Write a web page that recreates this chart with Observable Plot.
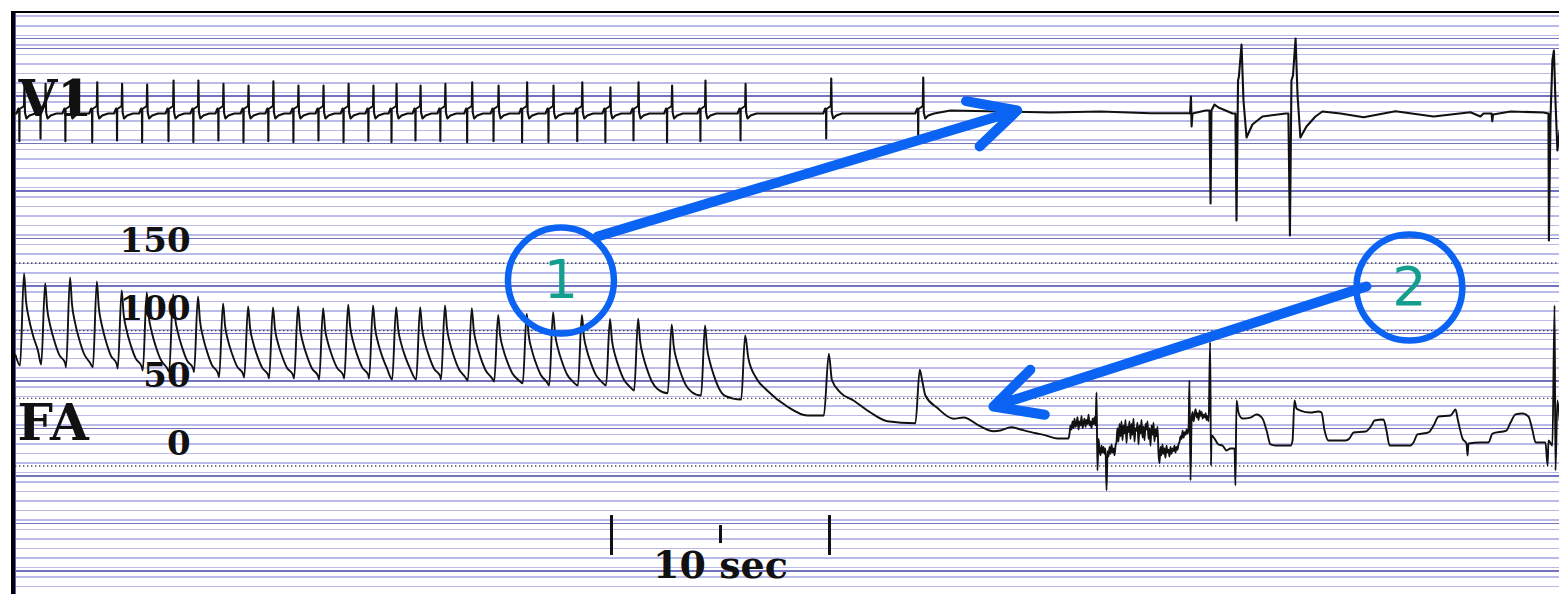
<!DOCTYPE html>
<html><head><meta charset="utf-8">
<script src="https://cdn.jsdelivr.net/npm/d3@7"></script>
<script src="https://cdn.jsdelivr.net/npm/@observablehq/plot@0.6"></script>
<style>
html,body{margin:0;padding:0;background:#fff;}
#wrap{position:relative;width:1559px;height:594px;overflow:hidden;background:#fff;}
#paper{position:absolute;left:15px;top:14px;right:0;bottom:0;
 background-image:
  repeating-linear-gradient(to bottom, rgba(90,90,180,0.85) 0px, rgba(90,90,180,0.85) 1.3px, transparent 1.3px, transparent 47.5px),
  repeating-linear-gradient(to bottom, rgba(150,150,222,0.65) 0px, rgba(150,150,222,0.65) 1.3px, transparent 1.3px, transparent 9.5px);
 background-position: 0 34px, 0 2px;}
#frameL{position:absolute;left:11px;top:11px;width:3.5px;bottom:0;background:#000;}
#frameLb{position:absolute;left:15px;top:13px;width:1px;bottom:0;background:#5a5ab8;}
#frameT{position:absolute;left:11px;top:11px;right:0;height:2px;background:#000;}
.layer{position:absolute;left:0;top:0;}
</style></head>
<body>
<div id="wrap"><div id="paper"></div><div id="frameL"></div><div id="frameLb"></div><div id="frameT"></div></div>
<script>
// ---------------- DATA ----------------
// beat times (s) of the V1 spike complexes
const beatTimes = [0.41, 1.38, 2.52, 3.75, 4.89, 6.04, 7.25, 8.39, 9.54, 10.69, 11.83, 12.98, 14.13, 15.28, 16.42,
  17.48, 18.58, 19.72, 20.95, 22.16, 23.47, 24.68, 26.00, 27.29, 28.58, 30.12, 31.65, 33.49, 37.42, 41.64];
// V1 spike amplitudes (mV)
const v1Up = [1.08, 1.15, 1.2, 1.21, 1.15, 1.12, 1.28, 1.28, 1.15, 1.08, 1.25, 1.08, 1.08, 1.15, 1.08, 1.15,
  1.08, 1.15, 1.21, 1.08, 1.21, 1.08, 1.21, 1.01, 1.21, 1.08, 1.28, 1.15, 1.36, 1.40];
const v1Down = [-1.15, -1.05, -1.15, -1.19, -1.12, -1.19, -1.15, -1.19, -1.12, -1.19, -1.15, -1.19, -1.12, -1.19,
  -1.15, -1.19, -1.12, -1.15, -1.19, -1.15, -1.19, -1.19, -1.15, -1.19, -1.12, -1.19, -1.15, -1.12, -1.04, -0.92];
// V1 complex shape: time offsets (s) and values (mV); "D"/"U" = spike
const v1ShapeDt = [-0.367, -0.275, -0.24, -0.232, -0.222, -0.05, -0.02, 0, 0.025, 0.09, 0.23, 0.5];
const v1ShapeMv = [-0.04, 0.16, 0.08, "D", 0.14, 0.24, 0.28, "U", 0.0, -0.24, -0.12, -0.04];
// V1 after the pauses [t (s), mV]
const v1Tail = [[42.89, 0.08], [45.18, 0.04], [47.48, 0], [49.77, 0.04], [52.07, -0.03], [53.81, -0.03], [53.88, -0.04],
  [53.92, 0.64], [53.95, -0.56], [53.99, -0.04], [54.59, 0.08], [54.77, 0.08], [54.82, -3.64], [54.86, 0.08], [55.00, 0.32],
  [55.18, 0.2], [55.51, 0.08], [55.83, -0.04], [55.96, -0.04], [56.01, -4.32], [56.08, 1.28], [56.12, 1.44], [56.24, 2.72],
  [56.33, 0.48], [56.47, -1.0], [56.74, -0.48], [57.20, -0.16], [58.26, -0.04], [58.39, -0.04], [58.46, -4.92], [58.53, 1.28],
  [58.60, 1.48], [58.72, 2.96], [58.81, 0.68], [58.94, -1.0], [59.22, -0.56], [59.63, -0.16], [59.95, 0.04], [60.78, -0.04],
  [61.84, -0.19], [63.30, 0.05], [65.05, -0.16], [66.74, 0.01], [67.20, -0.16], [67.34, -0.04], [67.71, -0.04], [67.74, -0.35],
  [67.78, -0.08], [68.58, 0.04], [70.09, 0], [70.32, -0.04], [70.34, -5.12], [70.41, -0.32], [70.50, 2.08], [70.57, 2.48],
  [70.64, 0.48], [70.73, -1.52], [70.83, -0.72]];

// FA (arterial pressure, mmHg)
const faStart = [0, 82];
const faPeak = [142.2, 135.1, 139.3, 136.3, 129.7, 128.2, 126.7, 125.3, 120.1, 117.9, 117.1, 117.9, 116.6, 119.1,
  118.6, 117.3, 117.3, 118.6, 116.6, 111.7, 112.5, 113.6, 111.7, 108.6, 108.8, 104.6, 103.8, 96.4];
const faTrough = [74.3, 75.0, 73.0, 73.0, 72.0, 70.6, 69.8, 69.3, 65.6, 65.4, 64.7, 64.7, 63.9, 64.7, 64.7, 63.9,
  63.9, 63.9, 63.2, 62.4, 61.2, 59.5, 59.5, 59.5, 55.8, 53.8, 52.1, 49.1];
const faUpOffset = -0.2, faPeakOffset = -0.02;
const faDecayDt = [0.092, 0.229, 0.413, 0.642, 0.917];
const faDecayFrac = [0.3, 0.5, 0.68, 0.85, 0.95];
const faTail = [[33.62, 79.4], [33.99, 64.7], [34.48, 55.8], [35.40, 44.0], [36.32, 37.3], [37.08, 37.3],
  [37.31, 82.9], [37.45, 63.5], [37.84, 54.3], [38.44, 48.4], [39.22, 39.5], [39.99, 33.1], [41.28, 31.6],
  [41.48, 71.1], [41.59, 63.2], [41.74, 52.1], [42.28, 43.0], [43.03, 34.9], [43.49, 35.8], [44.27, 29.2], [44.86, 25.7],
  [45.18, 26.2], [45.67, 28.7], [46.10, 27.0], [46.82, 24.2], [47.29, 22.5], [47.80, 20.3], [48.30, 20.3]];
// noisy stretches, sampled every faSampleStep seconds
const faSampleStep = 0.0459;
const faNoiseStarts = [48.35, 49.68, 50.55, 52.43, 53.40, 53.95];
const faNoiseA = [24, 30, 27, 33, 28, 35, 29, 31, 36, 27, 33, 30, 37, 28, 32, 35, 29, 34, 31, 38, 30, 33, 28, 35, 31, 36, 30];
const faNoiseB = [20, 12, 8, 15, 10, 14, 9, 13, -18, 11, 7, 14, 9, 16, 10, 13, 8, 15, 18];
const faNoiseC = [28, 18, 31, 22, 33, 19, 30, 24, 34, 17, 29, 25, 33, 20, 31, 23, 35, 18, 28, 26, 32, 16, 30, 24, 34,
  21, 29, 19, 31, 27, 33, 20, 28, 15, 30, 23, 32, 18, 27, 22, 29];
const faNoiseD = [10, 2, 14, 8, 16, 9, 13, 6, 15, 10, 12, 7, 14, 9, 13, 11, 15, 10, 14, 12, 16];
const faNoiseE = [18, 22, 20, 26, 21, 25, 23, 27, 24, 28];
const faNoiseF = [35, 40, 33, 38, 42, 36, 39, 34, 41, 37, 40, 35, 38, 36, 39, 34, 37, 33];
const faSpikes = [[49.59, 54.3], [49.63, -3.3], [53.85, 63.2], [53.90, -10.7], [54.80, 91.5], [54.84, 0.4]];
const faEnd = [[54.86, 22.5], [55.00, 20.3], [55.18, 15.9], [55.37, 15.1], [55.55, 11.5], [55.73, 12.9], [55.92, 12.9],
  [55.96, -14.4], [56.01, 48.4], [56.10, 39.5], [56.28, 35.1], [56.65, 35.8], [56.93, 38.1], [57.20, 35.1], [57.39, 26.2],
  [57.57, 15.9], [57.80, 15.1], [58.49, 15.1], [58.58, 18.8], [58.67, 48.4], [58.76, 42.5], [58.94, 41.0], [59.40, 39.5],
  [59.77, 40.3], [59.91, 39.5], [60.05, 26.2], [60.23, 18.8], [61.01, 18.8], [61.19, 20.3], [61.38, 24.8], [61.93, 25.5],
  [62.20, 29.9], [62.34, 33.6], [62.75, 34.4], [62.89, 26.2], [63.03, 15.1], [63.99, 15.1], [64.13, 17.4], [64.31, 23.3],
  [64.82, 24.8], [65.05, 29.9], [65.28, 36.6], [65.83, 37.3], [66.06, 41.7], [66.15, 35.1], [66.38, 20.3], [66.56, 16.6],
  [66.61, 7.8], [66.65, 16.6], [67.20, 17.4], [67.57, 17.4], [67.75, 24.0], [68.39, 26.2], [68.58, 32.1], [68.81, 38.1],
  [69.13, 38.8], [69.40, 36.6], [69.59, 26.2], [69.73, 17.4], [70.18, 17.4], [70.28, 0.4], [70.32, 18.8], [70.50, 15.1],
  [70.60, 118.6], [70.64, -3.3], [70.73, 48.4], [70.83, 33.6]];

const pressureTicks = [0, 50, 100, 150];
const scaleBarStart = 27.34;     // s
const scaleBarTicks = [0, 5, 10]; // s from start
const scaleBarLabel = "10 sec";

const callouts = [{t: 25.02, p: 137.1, label: "1"}, {t: 63.94, p: 131.9, label: "2"}];
const arrows = [{t1: 26.70, p1: 169.6, t2: 45.95, p2: 262.7}, {t1: 61.97, p1: 132.6, t2: 44.86, p2: 44.0}];

// ---------------- BUILD ----------------
const v1 = [{t: 0, v: -0.04}];
beatTimes.forEach((u, i) => {
  v1ShapeDt.forEach((dt, k) => {
    const m = v1ShapeMv[k];
    v1.push({t: u + dt, v: m === "U" ? v1Up[i] : m === "D" ? v1Down[i] : m});
  });
});
v1Tail.forEach(([t, v]) => v1.push({t, v}));
v1.sort((a, b) => a.t - b.t);

const fa = [{t: faStart[0], p: faStart[1]}];
faPeak.forEach((P, i) => {
  const u = beatTimes[i];
  fa.push({t: u + faUpOffset, p: faTrough[i]});
  fa.push({t: u + faPeakOffset, p: P});
  if (i + 1 < faPeak.length) {
    const nextUp = beatTimes[i + 1] + faUpOffset;
    faDecayDt.forEach((dt, k) => {
      const t = u + faPeakOffset + dt;
      if (t < nextUp - 0.03) fa.push({t, p: P - faDecayFrac[k] * (P - faTrough[i + 1])});
    });
  }
});
faTail.forEach(([t, p]) => fa.push({t, p}));
[faNoiseA, faNoiseB, faNoiseC, faNoiseD, faNoiseE, faNoiseF].forEach((vals, s) => {
  vals.forEach((p, j) => fa.push({t: faNoiseStarts[s] + j * faSampleStep, p}));
});
faSpikes.forEach(([t, p]) => fa.push({t, p}));
faEnd.forEach(([t, p]) => fa.push({t, p}));
fa.sort((a, b) => a.t - b.t);

// ---------------- PLOTS ----------------
const W = 1559, H = 594;
const xDomain = [-0.688, 70.826];
const faDomain = [-94.95, 343.97];
const v1Domain = [-19.28, 4.48];
const blue = "#0b63f3", teal = "#149e8d", ink = "#111";
const serif = "DejaVu Serif";

function layer(yDomain, marks) {
  const svg = Plot.plot({
    width: W, height: H, margin: 0,
    x: {domain: xDomain, axis: null},
    y: {domain: yDomain, axis: null},
    style: {background: "transparent", overflow: "visible"},
    marks
  });
  svg.setAttribute("class", (svg.getAttribute("class") || "") + " layer");
  svg.style.position = "absolute"; svg.style.left = "0px"; svg.style.top = "0px";
  document.getElementById("wrap").appendChild(svg);
}

// FA channel
layer(faDomain, [
  Plot.ruleY(pressureTicks, {y: d => d, x1: 0, x2: xDomain[1], stroke: "#222", strokeWidth: 1.4,
    strokeDasharray: "1.4,2.6", strokeOpacity: 0.8}),
  Plot.text(pressureTicks, {x: 8.03, y: d => d, text: d => String(d), textAnchor: "end", lineAnchor: "middle",
    dy: -22, fontSize: 34, fontWeight: "bold", fontFamily: serif, fill: ink}),
  Plot.text(["FA"], {x: 0.09, y: 31.4, text: d => d, textAnchor: "start", lineAnchor: "middle",
    fontSize: 50, fontWeight: "bold", fontFamily: serif, fill: ink}),
  Plot.line(fa, {x: "t", y: "p", stroke: ink, strokeWidth: 1.9, curve: "monotone-x", strokeLinejoin: "round"}),
  Plot.ruleX(scaleBarTicks, {x: d => scaleBarStart + d, y1: d => d === 5 ? -44.0 : -36.6, y2: d => d === 5 ? -57.3 : -66.1,
    stroke: ink, strokeWidth: 3}),
  Plot.text([scaleBarLabel], {x: scaleBarStart + 5, y: -73.5, text: d => d, textAnchor: "middle", lineAnchor: "middle",
    fontSize: 38, fontWeight: "bold", fontFamily: serif, fill: ink})
]);

// V1 channel
layer(v1Domain, [
  Plot.line(v1, {x: "t", y: "v", stroke: ink, strokeWidth: 2.1, strokeLinejoin: "round"}),
  Plot.text(["V1"], {x: 0.14, y: 0.5, text: d => d, textAnchor: "start", lineAnchor: "middle",
    fontSize: 50, fontWeight: "bold", fontFamily: serif, fill: ink})
]);

// annotations
layer(faDomain, [
  Plot.arrow(arrows, {x1: "t1", y1: "p1", x2: "t2", y2: "p2", stroke: blue, strokeWidth: 10,
    headLength: 7.8, headAngle: 54, strokeLinecap: "round", strokeLinejoin: "round"}),
  Plot.dot(callouts, {x: "t", y: "p", r: 53, stroke: blue, strokeWidth: 6.5, fill: "none"}),
  Plot.text(callouts, {x: "t", y: "p", text: "label", fill: teal, fontSize: 54, fontFamily: "DejaVu Sans",
    fontWeight: 500, textAnchor: "middle", lineAnchor: "middle"})
]);
</script>
</body></html>
